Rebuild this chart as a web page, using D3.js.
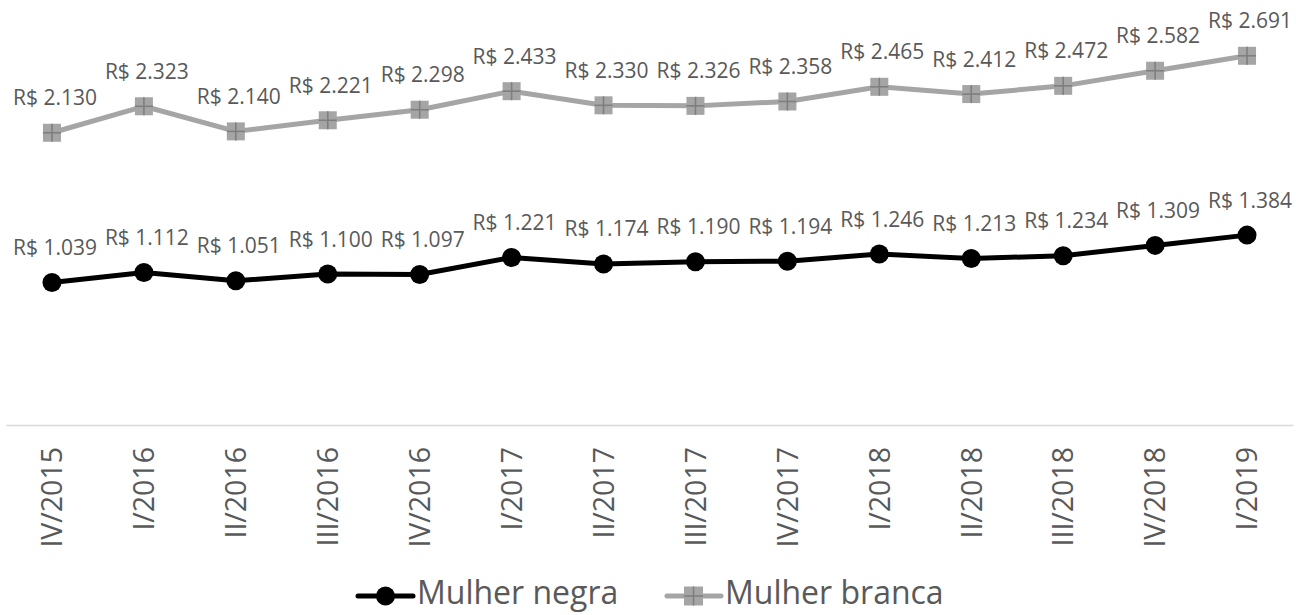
<!DOCTYPE html>
<html>
<head>
<meta charset="utf-8">
<script src="https://cdn.jsdelivr.net/npm/d3@7"></script>
<style>
  html, body { margin: 0; padding: 0; background: #fff; }
  svg { display: block; }
  text { font-family: "Open Sans", "Noto Sans", sans-serif; fill: #595959; }
</style>
</head>
<body>
<svg id="chart" width="1296" height="615"></svg>
<script>
// Quarterly periods
const quarters = ["IV/2015", "I/2016", "II/2016", "III/2016", "IV/2016", "I/2017", "II/2017",
  "III/2017", "IV/2017", "I/2018", "II/2018", "III/2018", "IV/2018", "I/2019"];

// Average income (R$) by group
const mulherNegra = [1039, 1112, 1051, 1100, 1097, 1221, 1174, 1190, 1194, 1246, 1213, 1234, 1309, 1384];
const mulherBranca = [2130, 2323, 2140, 2221, 2298, 2433, 2330, 2326, 2358, 2465, 2412, 2472, 2582, 2691];

const seriesNames = ["Mulher negra", "Mulher branca"];

const svg = d3.select("#chart");

const x = d3.scaleBand().domain(quarters).range([6, 1293]);
const y = d3.scaleLinear().domain([0, 3000]).range([425, 13.4]);
const cx = d => x(d) + x.bandwidth() / 2;

const fmt = v => "R$ " + d3.format(",")(v).replace(/,/g, ".");

// Category axis
const axis = svg.append("g").attr("transform", "translate(0,425)")
  .call(d3.axisBottom(x).tickSize(0).tickPadding(0));
axis.select(".domain").attr("stroke", "#d9d9d9").attr("stroke-width", 1.5);
axis.selectAll(".tick text")
  .attr("transform", "rotate(-90)")
  .attr("text-anchor", "end")
  .attr("x", -22)
  .attr("y", 0)
  .attr("dy", "0.36em")
  .style("font-size", "28.5px")
  .style("font-family", "'Open Sans', sans-serif")
  .attr("fill", "#595959");

const line = d3.line().x((d, i) => cx(quarters[i])).y(d => y(d));

// Square marker with a cross
function squareMarker(g, px, py, s) {
  g.append("rect").attr("x", px - s / 2).attr("y", py - s / 2)
    .attr("width", s).attr("height", s).attr("fill", "#a5a5a5");
  g.append("line").attr("x1", px - s / 2).attr("x2", px + s / 2).attr("y1", py).attr("y2", py)
    .attr("stroke", "#7f7f7f").attr("stroke-width", 1.6);
  g.append("line").attr("x1", px).attr("x2", px).attr("y1", py - s / 2).attr("y2", py + s / 2)
    .attr("stroke", "#7f7f7f").attr("stroke-width", 1.6);
}

// Mulher branca
svg.append("path").datum(mulherBranca).attr("d", line)
  .attr("fill", "none").attr("stroke", "#a5a5a5").attr("stroke-width", 5).attr("stroke-linejoin", "round");
const gB = svg.append("g");
mulherBranca.forEach((v, i) => squareMarker(gB, cx(quarters[i]), y(v), 18));

// Mulher negra
svg.append("path").datum(mulherNegra).attr("d", line)
  .attr("fill", "none").attr("stroke", "#000").attr("stroke-width", 5).attr("stroke-linejoin", "round");
svg.append("g").selectAll("circle").data(mulherNegra).join("circle")
  .attr("cx", (d, i) => cx(quarters[i])).attr("cy", d => y(d)).attr("r", 9.5).attr("fill", "#000");

// Data labels
[mulherBranca, mulherNegra].forEach(series => {
  svg.append("g").selectAll("text").data(series).join("text")
    .attr("x", (d, i) => cx(quarters[i]) + 3)
    .attr("y", d => y(d) - 27.5)
    .attr("text-anchor", "middle")
    .style("font-size", "21px")
    .text(d => fmt(d));
});

// Legend
const lg = svg.append("g");
lg.append("line").attr("x1", 358).attr("x2", 413).attr("y1", 596).attr("y2", 596)
  .attr("stroke", "#000").attr("stroke-width", 5).attr("stroke-linecap", "round");
lg.append("circle").attr("cx", 385.5).attr("cy", 596).attr("r", 9.5).attr("fill", "#000");
lg.append("text").attr("x", 417).attr("y", 604).style("font-size", "32px").text(seriesNames[0]);

lg.append("line").attr("x1", 667).attr("x2", 721).attr("y1", 596).attr("y2", 596)
  .attr("stroke", "#a5a5a5").attr("stroke-width", 5).attr("stroke-linecap", "round");
squareMarker(lg, 693.5, 596, 19);
lg.append("text").attr("x", 725).attr("y", 604).style("font-size", "32px").text(seriesNames[1]);
</script>
</body>
</html>
